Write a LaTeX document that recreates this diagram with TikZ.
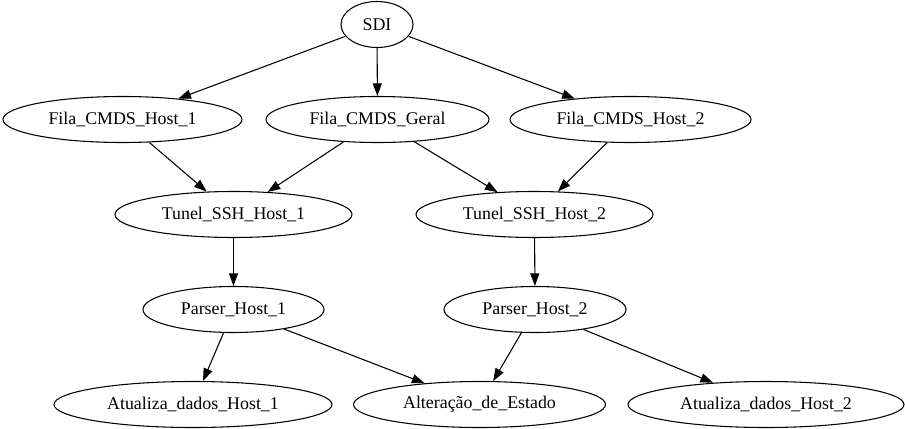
\documentclass[tikz,border=0pt]{standalone}
\usepackage{fontspec}
\setmainfont{Liberation Serif}
\usetikzlibrary{shapes.geometric,arrows.meta}
\begin{document}
\begin{tikzpicture}[x=0.75pt,y=-0.75pt,
  nd/.style={ellipse,draw=black,line width=0.8pt,inner sep=0pt,minimum height=34.5pt,
    font=\fontsize{13.4}{16}\selectfont,text=black},
  ed/.style={draw=black,line width=0.8pt,-{Triangle[length=9.5pt,width=6.8pt]}}]
\useasboundingbox (0,0) rectangle (905,428);
\node[nd,minimum width=54pt] (sdi) at (377,24.5) {SDI};
\node[nd,minimum width=179.25pt] (fh1) at (122.5,119.5) {Fila\_CMDS\_Host\_1};
\node[nd,minimum width=167.25pt] (fg) at (377.5,119.5) {Fila\_CMDS\_Geral};
\node[nd,minimum width=180.75pt] (fh2) at (630.5,119.5) {Fila\_CMDS\_Host\_2};
\node[nd,minimum width=177.75pt] (t1) at (233.5,214.5) {Tunel\_SSH\_Host\_1};
\node[nd,minimum width=177.75pt] (t2) at (534.5,214.5) {Tunel\_SSH\_Host\_2};
\node[nd,minimum width=135.75pt] (p1) at (233.5,309.5) {Parser\_Host\_1};
\node[nd,minimum width=136.5pt] (p2) at (535,309.5) {Parser\_Host\_2};
\node[nd,minimum width=208.5pt] (a1) at (193,404.5) {Atualiza\_dados\_Host\_1};
\node[nd,minimum width=189pt] (ae) at (479.5,404.5) {Alteração\_de\_Estado};
\node[nd,minimum width=207pt] (a2) at (766,404.5) {Atualiza\_dados\_Host\_2};
\draw[ed] (sdi) -- (fh1);
\draw[ed] (sdi) -- (fg);
\draw[ed] (sdi) -- (fh2);
\draw[ed] (fh1) -- (t1);
\draw[ed] (fg) -- (t1);
\draw[ed] (fg) -- (t2);
\draw[ed] (fh2) -- (t2);
\draw[ed] (t1) -- (p1);
\draw[ed] (t2) -- (p2);
\draw[ed] (p1) -- (a1);
\draw[ed] (p1) -- (ae);
\draw[ed] (p2) -- (ae);
\draw[ed] (p2) -- (a2);
\end{tikzpicture}
\end{document}
